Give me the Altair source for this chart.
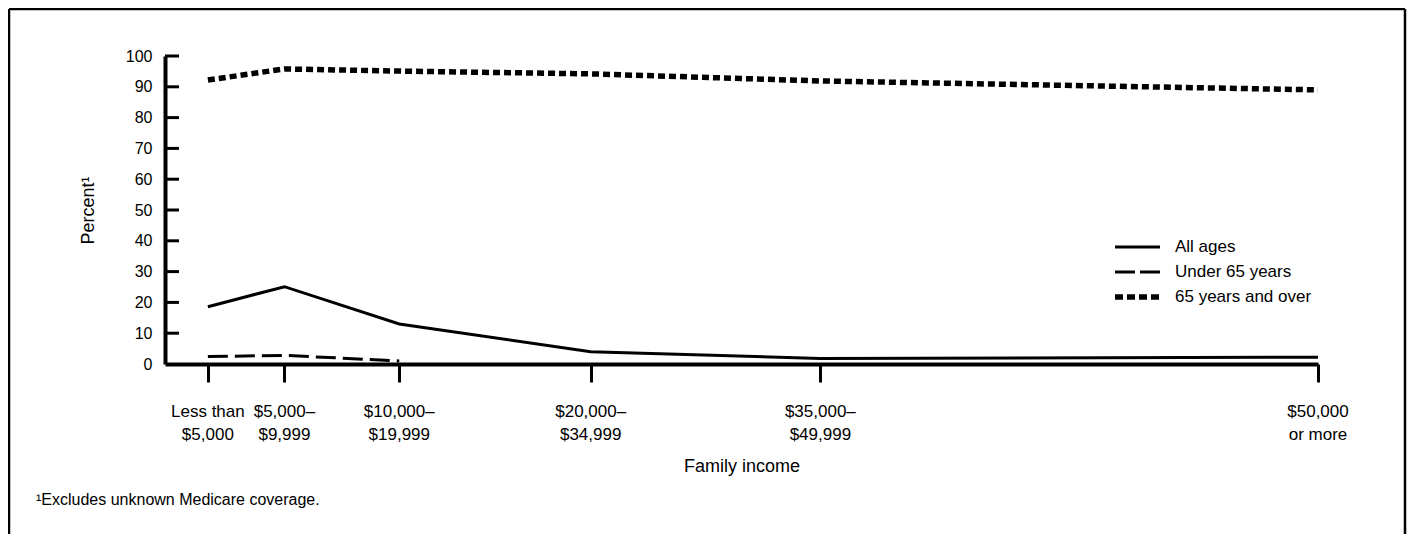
import altair as alt
import pandas as pd

# ---- data ----
income_labels = ["Less than\n$5,000", "$5,000–\n$9,999", "$10,000–\n$19,999",
                 "$20,000–\n$34,999", "$35,000–\n$49,999", "$50,000\nor more"]
income_mid = [2.5, 7.5, 15, 27.5, 42.5, 75]          # income in $1,000 (group midpoints)
all_ages = [18.6, 25.1, 13.0, 4.0, 1.8, 2.2]
under_65 = [2.4, 2.8, 1.0]                             # first three income groups only
over_65 = [92.2, 95.8, 95.1, 94.2, 91.9, 89.0]
y_values = [0, 10, 20, 30, 40, 50, 60, 70, 80, 90, 100]
y_ticks = [10, 20, 30, 40, 50, 60, 70, 80, 90, 100]
legend_names = ["All ages", "Under 65 years", "65 years and over"]
x_title = "Family income"
y_title = "Percent¹"
footnote = "¹Excludes unknown Medicare coverage."

FONT = "Liberation Sans"
W, H = 1153, 308

x_scale = alt.Scale(domain=[-0.3, 75], nice=False, zero=False)
y_scale = alt.Scale(domain=[0, 100], nice=False)

x_axis = alt.Axis(values=income_mid, labels=False, title=x_title, tickSize=18, tickWidth=3,
                  tickColor="black", domainWidth=4, domainColor="black", grid=False,
                  titleFont=FONT, titleFontSize=18, titleFontWeight="normal", titleColor="black",
                  titleY=102, titleBaseline="middle")
y_axis = alt.Axis(values=y_values, tickCount=11, ticks=False, tickSize=0, labelPadding=13,
                  labelFont=FONT, labelFontSize=16, labelColor="black", labelOverlap=False,
                  labelFlush=False, domainWidth=4, domainColor="black",
                  grid=False, title=y_title, titleFont=FONT, titleFontSize=18,
                  titleFontWeight="normal", titleColor="black", titleX=-77, titleY=154,
                  titleAngle=270, titleAlign="center", titleBaseline="middle")

X = alt.X("x:Q", scale=x_scale, axis=x_axis)
Y = alt.Y("y:Q", scale=y_scale, axis=y_axis)

df_all = pd.DataFrame({"x": income_mid, "y": all_ages})
df_u65 = pd.DataFrame({"x": income_mid[:3], "y": under_65})
df_o65 = pd.DataFrame({"x": income_mid, "y": over_65})

line_all = alt.Chart(df_all).mark_line(color="black", strokeWidth=3).encode(x=X, y=Y)
line_u65 = alt.Chart(df_u65).mark_line(color="black", strokeWidth=3, strokeDash=[20, 7]).encode(x=X, y=Y)
line_o65 = alt.Chart(df_o65).mark_line(color="black", strokeWidth=5.5, strokeDash=[7, 4]).encode(x=X, y=Y)

# inward y ticks
yt = alt.Chart(pd.DataFrame({"y": y_ticks})).mark_rule(color="black", strokeWidth=3).encode(
    y=Y, x=alt.value(0), x2=alt.value(14)
)

# two-line x tick labels
xlab = alt.Chart(pd.DataFrame({"x": income_mid, "label": income_labels})).mark_text(
    font=FONT, fontSize=17, lineBreak="\n", lineHeight=23, baseline="alphabetic",
    align="center", color="black"
).encode(x=X, y=alt.value(361), text="label:N")

# manual legend
one = pd.DataFrame({"a": [0]})
leg_layers = []
leg_styles = [dict(strokeWidth=3), dict(strokeWidth=3, strokeDash=[20, 5]),
              dict(strokeWidth=5.5, strokeDash=[8, 4])]
leg_y = [191, 216, 241]
for name, sty, yy in zip(legend_names, leg_styles, leg_y):
    leg_layers.append(alt.Chart(one).mark_rule(color="black", **sty).encode(
        x=alt.value(950), x2=alt.value(995), y=alt.value(yy)))
    leg_layers.append(alt.Chart(pd.DataFrame({"t": [name]})).mark_text(
        font=FONT, fontSize=17, align="left", baseline="middle", color="black").encode(
        x=alt.value(1010), y=alt.value(yy), text="t:N"))

# frame around figure
frame = [
    alt.Chart(one).mark_rule(color="black", strokeWidth=2.5).encode(
        x=alt.value(-156), y=alt.value(-47), y2=alt.value(480)),
    alt.Chart(one).mark_rule(color="black", strokeWidth=2.5).encode(
        x=alt.value(-156), x2=alt.value(1240), y=alt.value(-47)),
    alt.Chart(one).mark_rule(color="black", strokeWidth=2.5).encode(
        x=alt.value(1240), y=alt.value(-47), y2=alt.value(480)),
]

foot = alt.Chart(pd.DataFrame({"t": [footnote]})).mark_text(
    font=FONT, fontSize=16, align="left", baseline="middle", color="black"
).encode(x=alt.value(-129), y=alt.value(444), text="t:N")

chart = alt.layer(
    line_all, line_u65, line_o65, yt, xlab, *leg_layers, *frame, foot
).properties(
    width=W, height=H,
    autosize=alt.AutoSizeParams(type="none"),
    padding={"left": 157, "top": 48, "right": 90, "bottom": 170},
    background="white",
).configure_view(strokeWidth=0)

chart.save("out.html", embed_options={"renderer": "svg", "actions": False})
